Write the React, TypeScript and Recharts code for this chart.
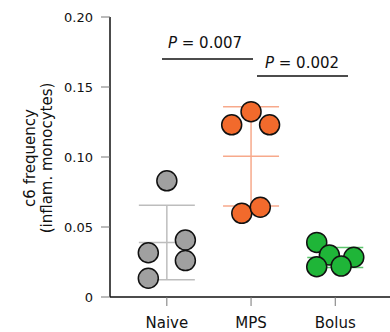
import React from 'react';
import { ComposedChart, Scatter, ErrorBar, XAxis, YAxis } from 'recharts';

const groups = ['Naive', 'MPS', 'Bolus'];
const naiveX = [1.0, 0.78, 1.22, 1.22, 0.78];
const naiveY = [0.083, 0.0316, 0.0407, 0.026, 0.0134];
const mpsX = [1.77, 2.0, 2.22, 1.89, 2.11];
const mpsY = [0.123, 0.1324, 0.123, 0.0598, 0.0641];
const bolusX = [2.78, 2.93, 3.22, 2.78, 3.07];
const bolusY = [0.039, 0.03, 0.0284, 0.0216, 0.0221];
const yTicks = [0, 0.05, 0.1, 0.15, 0.2];
const pLabels = ['P = 0.007', 'P = 0.002'];

const fills = ['#a0a0a0', '#f26a2c', '#1fb538'];
const barColors = ['#bdbdbd', '#f7a98b', '#5cc56c'];

const points = (xs: number[], ys: number[]) => xs.map((x, i) => ({ x, y: ys[i] }));

const mean = (a: number[]) => a.reduce((s, v) => s + v, 0) / a.length;
const sd = (a: number[]) => {
  const m = mean(a);
  return Math.sqrt(a.reduce((s, v) => s + (v - m) * (v - m), 0) / (a.length - 1));
};

const naivePts = points(naiveX, naiveY);
const mpsPts = points(mpsX, mpsY);
const bolusPts = points(bolusX, bolusY);

const summary = [naiveY, mpsY, bolusY].map((ys, i) => [{ x: i + 1, y: mean(ys), sd: sd(ys) }]);

const Dot = (props: any) => (
  <circle cx={props.cx} cy={props.cy} r={10} fill={props.fillColor} stroke="#111" strokeWidth={1.5} />
);

const MeanLine = (props: any) => (
  <line x1={props.cx - 28} x2={props.cx + 28} y1={props.cy} y2={props.cy} stroke={props.color} strokeWidth={1.5} />
);

const YLabel = () => (
  <text transform="translate(0,158) rotate(-90)" textAnchor="middle" fontSize={15} fill="#111">
    <tspan x={0} y={35}>c6 frequency</tspan>
    <tspan x={0} y={52}>(inflam. monocytes)</tspan>
  </text>
);

const Brackets = () => (
  <g fontSize={15} fill="#111">
    <text x={205} y={48} textAnchor="middle">
      <tspan fontStyle="italic">P</tspan>
      {pLabels[0].slice(1)}
    </text>
    <line x1={162} x2={253} y1={59} y2={59} stroke="#111" strokeWidth={1.5} />
    <text x={302} y={68} textAnchor="middle">
      <tspan fontStyle="italic">P</tspan>
      {pLabels[1].slice(1)}
    </text>
    <line x1={257} x2={348} y1={76} y2={76} stroke="#111" strokeWidth={1.5} />
  </g>
);

export default function App() {
  return (
    <div style={{ position: 'absolute', left: 0, top: 0, width: 390, height: 332, background: '#fff', fontFamily: '"DejaVu Sans", sans-serif' }}>
      <ComposedChart width={390} height={332} margin={{ top: 17, right: 0, bottom: 5, left: 50 }}>
        <XAxis
          type="number"
          dataKey="x"
          domain={[0.325, 3.65]}
          ticks={[1, 2, 3]}
          tickFormatter={(v) => groups[v - 1]}
          tick={{ fontSize: 15, fill: '#111' }}
          tickSize={9}
          tickMargin={11}
          tickLine={{ stroke: '#777' }}
          axisLine={{ stroke: '#111', strokeWidth: 1.5 }}
          height={30}
          allowDataOverflow
        />
        <YAxis
          type="number"
          dataKey="y"
          domain={[0, 0.2]}
          ticks={yTicks}
          tickFormatter={(v) => (v === 0 ? '0' : v.toFixed(2))}
          tick={{ fontSize: 13, fill: '#111' }}
          tickSize={9}
          tickMargin={8}
          tickLine={{ stroke: '#777' }}
          axisLine={{ stroke: '#111', strokeWidth: 1.5 }}
          width={60}
        />
        {summary.map((d, i) => (
          <Scatter key={'m' + i} data={d} isAnimationActive={false} shape={<MeanLine color={barColors[i]} />}>
            <ErrorBar dataKey="sd" direction="y" width={28} stroke={barColors[i]} strokeWidth={1.5} />
          </Scatter>
        ))}
        <Scatter data={naivePts} isAnimationActive={false} shape={<Dot fillColor={fills[0]} />} />
        <Scatter data={mpsPts} isAnimationActive={false} shape={<Dot fillColor={fills[1]} />} />
        <Scatter data={bolusPts} isAnimationActive={false} shape={<Dot fillColor={fills[2]} />} />
        <Brackets />
        <YLabel />
      </ComposedChart>
    </div>
  );
}
